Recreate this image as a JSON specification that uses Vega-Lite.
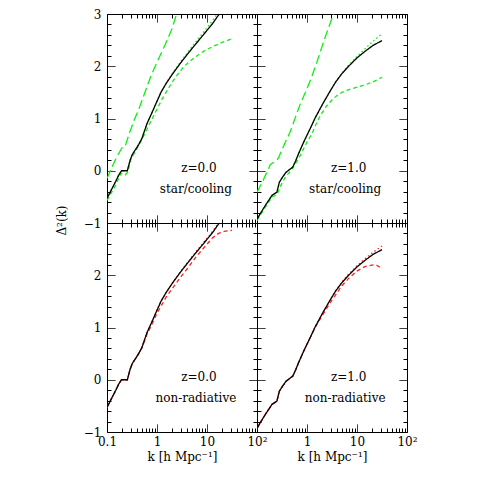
{
  "$schema": "https://vega.github.io/schema/vega-lite/v6.json",
  "padding": {"left": 54, "top": 7, "right": 5, "bottom": 5},
  "background": "white",
  "config": {
    "view": {"stroke": "black", "strokeWidth": 1},
    "axis": {
      "grid": false,
      "domain": false,
      "tickColor": "black",
      "tickWidth": 1,
      "tickSize": 8,
      "labelFont": "DejaVu Serif",
      "labelFontSize": 12,
      "labelColor": "black",
      "labelFlush": false,
      "labelOverlap": false,
      "titleFont": "DejaVu Serif",
      "titleFontSize": 12,
      "titleFontWeight": "normal",
      "titleColor": "black"
    }
  },
  "datasets": {
    "curves": [
      {"panel":"TL","series":"a_dot_g","k":0.1,"v":-0.53},{"panel":"TL","series":"a_dot_g","k":0.12,"v":-0.38},{"panel":"TL","series":"a_dot_g","k":0.15,"v":-0.2},{"panel":"TL","series":"a_dot_g","k":0.17,"v":-0.09},{"panel":"TL","series":"a_dot_g","k":0.195,"v":0.0},{"panel":"TL","series":"a_dot_g","k":0.255,"v":0.0},{"panel":"TL","series":"a_dot_g","k":0.29,"v":0.2},{"panel":"TL","series":"a_dot_g","k":0.32,"v":0.31},{"panel":"TL","series":"a_dot_g","k":0.38,"v":0.42},{"panel":"TL","series":"a_dot_g","k":0.43,"v":0.5},{"panel":"TL","series":"a_dot_g","k":0.5,"v":0.62},{"panel":"TL","series":"a_dot_g","k":0.63,"v":0.9},{"panel":"TL","series":"a_dot_g","k":0.8,"v":1.12},{"panel":"TL","series":"a_dot_g","k":1.0,"v":1.33},{"panel":"TL","series":"a_dot_g","k":1.2,"v":1.5},{"panel":"TL","series":"a_dot_g","k":1.5,"v":1.67},{"panel":"TL","series":"a_dot_g","k":2.0,"v":1.85},{"panel":"TL","series":"a_dot_g","k":3.0,"v":2.09},{"panel":"TL","series":"a_dot_g","k":4.3,"v":2.29},{"panel":"TL","series":"a_dot_g","k":6.0,"v":2.47},{"panel":"TL","series":"a_dot_g","k":9.3,"v":2.7},{"panel":"TL","series":"a_dot_g","k":13,"v":2.88},{"panel":"TL","series":"a_dot_g","k":17,"v":3.04},{"panel":"TL","series":"a_dot_g","k":25,"v":3.24},{"panel":"TL","series":"a_dot_g","k":31.6,"v":3.37},

      {"panel":"TL","series":"b_short_g","k":0.1,"v":-0.57},{"panel":"TL","series":"b_short_g","k":0.15,"v":-0.27},{"panel":"TL","series":"b_short_g","k":0.19,"v":-0.05},{"panel":"TL","series":"b_short_g","k":0.23,"v":-0.08},{"panel":"TL","series":"b_short_g","k":0.26,"v":-0.03},{"panel":"TL","series":"b_short_g","k":0.3,"v":0.22},{"panel":"TL","series":"b_short_g","k":0.4,"v":0.43},{"panel":"TL","series":"b_short_g","k":0.5,"v":0.6},{"panel":"TL","series":"b_short_g","k":0.68,"v":0.86},{"panel":"TL","series":"b_short_g","k":1.0,"v":1.18},{"panel":"TL","series":"b_short_g","k":1.26,"v":1.37},{"panel":"TL","series":"b_short_g","k":1.7,"v":1.58},{"panel":"TL","series":"b_short_g","k":2.33,"v":1.79},{"panel":"TL","series":"b_short_g","k":3.5,"v":2.0},{"panel":"TL","series":"b_short_g","k":5.85,"v":2.18},{"panel":"TL","series":"b_short_g","k":9.0,"v":2.3},{"panel":"TL","series":"b_short_g","k":14.7,"v":2.4},{"panel":"TL","series":"b_short_g","k":22,"v":2.47},{"panel":"TL","series":"b_short_g","k":31.6,"v":2.53},

      {"panel":"TL","series":"c_long_g","k":0.1,"v":-0.15},{"panel":"TL","series":"c_long_g","k":0.13,"v":0.1},{"panel":"TL","series":"c_long_g","k":0.16,"v":0.28},{"panel":"TL","series":"c_long_g","k":0.2,"v":0.44},{"panel":"TL","series":"c_long_g","k":0.23,"v":0.46},{"panel":"TL","series":"c_long_g","k":0.28,"v":0.72},{"panel":"TL","series":"c_long_g","k":0.35,"v":0.97},{"panel":"TL","series":"c_long_g","k":0.45,"v":1.22},{"panel":"TL","series":"c_long_g","k":0.55,"v":1.45},{"panel":"TL","series":"c_long_g","k":0.74,"v":1.79},{"panel":"TL","series":"c_long_g","k":1.0,"v":2.08},{"panel":"TL","series":"c_long_g","k":1.47,"v":2.42},{"panel":"TL","series":"c_long_g","k":2.0,"v":2.72},{"panel":"TL","series":"c_long_g","k":2.44,"v":2.99},{"panel":"TL","series":"c_long_g","k":3.5,"v":3.4},

      {"panel":"TL","series":"d_ref","k":0.1,"v":-0.53},{"panel":"TL","series":"d_ref","k":0.12,"v":-0.38},{"panel":"TL","series":"d_ref","k":0.15,"v":-0.2},{"panel":"TL","series":"d_ref","k":0.17,"v":-0.09},{"panel":"TL","series":"d_ref","k":0.195,"v":0.0},{"panel":"TL","series":"d_ref","k":0.255,"v":0.0},{"panel":"TL","series":"d_ref","k":0.29,"v":0.2},{"panel":"TL","series":"d_ref","k":0.32,"v":0.31},{"panel":"TL","series":"d_ref","k":0.38,"v":0.42},{"panel":"TL","series":"d_ref","k":0.43,"v":0.5},{"panel":"TL","series":"d_ref","k":0.5,"v":0.62},{"panel":"TL","series":"d_ref","k":0.63,"v":0.9},{"panel":"TL","series":"d_ref","k":0.8,"v":1.12},{"panel":"TL","series":"d_ref","k":1.0,"v":1.33},{"panel":"TL","series":"d_ref","k":1.2,"v":1.5},{"panel":"TL","series":"d_ref","k":1.5,"v":1.66},{"panel":"TL","series":"d_ref","k":2.0,"v":1.84},{"panel":"TL","series":"d_ref","k":3.0,"v":2.07},{"panel":"TL","series":"d_ref","k":4.3,"v":2.26},{"panel":"TL","series":"d_ref","k":6.0,"v":2.43},{"panel":"TL","series":"d_ref","k":9.3,"v":2.65},{"panel":"TL","series":"d_ref","k":13,"v":2.82},{"panel":"TL","series":"d_ref","k":17,"v":2.98},{"panel":"TL","series":"d_ref","k":25,"v":3.15},{"panel":"TL","series":"d_ref","k":31.6,"v":3.26},

      {"panel":"TR","series":"a_dot_g","k":0.1,"v":-0.93},{"panel":"TR","series":"a_dot_g","k":0.12,"v":-0.8},{"panel":"TR","series":"a_dot_g","k":0.15,"v":-0.65},{"panel":"TR","series":"a_dot_g","k":0.2,"v":-0.47},{"panel":"TR","series":"a_dot_g","k":0.25,"v":-0.41},{"panel":"TR","series":"a_dot_g","k":0.28,"v":-0.22},{"panel":"TR","series":"a_dot_g","k":0.32,"v":-0.13},{"panel":"TR","series":"a_dot_g","k":0.38,"v":-0.03},{"panel":"TR","series":"a_dot_g","k":0.43,"v":0.01},{"panel":"TR","series":"a_dot_g","k":0.52,"v":0.07},{"panel":"TR","series":"a_dot_g","k":0.6,"v":0.2},{"panel":"TR","series":"a_dot_g","k":0.68,"v":0.33},{"panel":"TR","series":"a_dot_g","k":0.86,"v":0.55},{"panel":"TR","series":"a_dot_g","k":1.15,"v":0.8},{"panel":"TR","series":"a_dot_g","k":1.47,"v":1.02},{"panel":"TR","series":"a_dot_g","k":2.15,"v":1.31},{"panel":"TR","series":"a_dot_g","k":2.8,"v":1.5},{"panel":"TR","series":"a_dot_g","k":3.7,"v":1.7},{"panel":"TR","series":"a_dot_g","k":5.0,"v":1.87},{"panel":"TR","series":"a_dot_g","k":6.8,"v":2.02},{"panel":"TR","series":"a_dot_g","k":10,"v":2.19},{"panel":"TR","series":"a_dot_g","k":14.7,"v":2.34},{"panel":"TR","series":"a_dot_g","k":21,"v":2.48},{"panel":"TR","series":"a_dot_g","k":31.6,"v":2.62},

      {"panel":"TR","series":"b_short_g","k":0.1,"v":-0.95},{"panel":"TR","series":"b_short_g","k":0.15,"v":-0.68},{"panel":"TR","series":"b_short_g","k":0.2,"v":-0.5},{"panel":"TR","series":"b_short_g","k":0.25,"v":-0.46},{"panel":"TR","series":"b_short_g","k":0.3,"v":-0.28},{"panel":"TR","series":"b_short_g","k":0.38,"v":-0.1},{"panel":"TR","series":"b_short_g","k":0.46,"v":-0.02},{"panel":"TR","series":"b_short_g","k":0.6,"v":0.15},{"panel":"TR","series":"b_short_g","k":0.74,"v":0.3},{"panel":"TR","series":"b_short_g","k":1.0,"v":0.55},{"panel":"TR","series":"b_short_g","k":1.26,"v":0.71},{"panel":"TR","series":"b_short_g","k":1.5,"v":0.88},{"panel":"TR","series":"b_short_g","k":1.85,"v":1.06},{"panel":"TR","series":"b_short_g","k":2.51,"v":1.25},{"panel":"TR","series":"b_short_g","k":3.2,"v":1.36},{"panel":"TR","series":"b_short_g","k":3.98,"v":1.44},{"panel":"TR","series":"b_short_g","k":5.0,"v":1.5},{"panel":"TR","series":"b_short_g","k":6.3,"v":1.54},{"panel":"TR","series":"b_short_g","k":10,"v":1.6},{"panel":"TR","series":"b_short_g","k":15,"v":1.65},{"panel":"TR","series":"b_short_g","k":22,"v":1.71},{"panel":"TR","series":"b_short_g","k":31.6,"v":1.79},

      {"panel":"TR","series":"c_long_g","k":0.1,"v":-0.41},{"panel":"TR","series":"c_long_g","k":0.13,"v":-0.2},{"panel":"TR","series":"c_long_g","k":0.16,"v":-0.02},{"panel":"TR","series":"c_long_g","k":0.185,"v":0.12},{"panel":"TR","series":"c_long_g","k":0.25,"v":0.2},{"panel":"TR","series":"c_long_g","k":0.27,"v":0.25},{"panel":"TR","series":"c_long_g","k":0.37,"v":0.55},{"panel":"TR","series":"c_long_g","k":0.46,"v":0.74},{"panel":"TR","series":"c_long_g","k":0.6,"v":1.05},{"panel":"TR","series":"c_long_g","k":0.75,"v":1.3},{"panel":"TR","series":"c_long_g","k":1.0,"v":1.57},{"panel":"TR","series":"c_long_g","k":1.3,"v":1.85},{"panel":"TR","series":"c_long_g","k":1.58,"v":2.08},{"panel":"TR","series":"c_long_g","k":2.2,"v":2.5},{"panel":"TR","series":"c_long_g","k":3.4,"v":3.0},{"panel":"TR","series":"c_long_g","k":4.5,"v":3.3},

      {"panel":"TR","series":"d_ref","k":0.1,"v":-0.93},{"panel":"TR","series":"d_ref","k":0.12,"v":-0.8},{"panel":"TR","series":"d_ref","k":0.15,"v":-0.65},{"panel":"TR","series":"d_ref","k":0.2,"v":-0.47},{"panel":"TR","series":"d_ref","k":0.25,"v":-0.41},{"panel":"TR","series":"d_ref","k":0.28,"v":-0.22},{"panel":"TR","series":"d_ref","k":0.32,"v":-0.13},{"panel":"TR","series":"d_ref","k":0.38,"v":-0.03},{"panel":"TR","series":"d_ref","k":0.43,"v":0.01},{"panel":"TR","series":"d_ref","k":0.52,"v":0.07},{"panel":"TR","series":"d_ref","k":0.6,"v":0.2},{"panel":"TR","series":"d_ref","k":0.68,"v":0.33},{"panel":"TR","series":"d_ref","k":0.86,"v":0.55},{"panel":"TR","series":"d_ref","k":1.15,"v":0.8},{"panel":"TR","series":"d_ref","k":1.47,"v":1.02},{"panel":"TR","series":"d_ref","k":2.15,"v":1.31},{"panel":"TR","series":"d_ref","k":2.8,"v":1.5},{"panel":"TR","series":"d_ref","k":3.7,"v":1.69},{"panel":"TR","series":"d_ref","k":5.0,"v":1.86},{"panel":"TR","series":"d_ref","k":6.8,"v":2.0},{"panel":"TR","series":"d_ref","k":10,"v":2.16},{"panel":"TR","series":"d_ref","k":14.7,"v":2.29},{"panel":"TR","series":"d_ref","k":21,"v":2.4},{"panel":"TR","series":"d_ref","k":31.6,"v":2.49},

      {"panel":"BL","series":"a_dot_r","k":0.1,"v":-0.53},{"panel":"BL","series":"a_dot_r","k":0.12,"v":-0.38},{"panel":"BL","series":"a_dot_r","k":0.15,"v":-0.2},{"panel":"BL","series":"a_dot_r","k":0.17,"v":-0.09},{"panel":"BL","series":"a_dot_r","k":0.195,"v":0.0},{"panel":"BL","series":"a_dot_r","k":0.255,"v":0.0},{"panel":"BL","series":"a_dot_r","k":0.29,"v":0.2},{"panel":"BL","series":"a_dot_r","k":0.32,"v":0.31},{"panel":"BL","series":"a_dot_r","k":0.38,"v":0.42},{"panel":"BL","series":"a_dot_r","k":0.43,"v":0.5},{"panel":"BL","series":"a_dot_r","k":0.5,"v":0.62},{"panel":"BL","series":"a_dot_r","k":0.63,"v":0.9},{"panel":"BL","series":"a_dot_r","k":0.8,"v":1.12},{"panel":"BL","series":"a_dot_r","k":1.0,"v":1.33},{"panel":"BL","series":"a_dot_r","k":1.2,"v":1.5},{"panel":"BL","series":"a_dot_r","k":1.5,"v":1.66},{"panel":"BL","series":"a_dot_r","k":2.0,"v":1.84},{"panel":"BL","series":"a_dot_r","k":3.0,"v":2.08},{"panel":"BL","series":"a_dot_r","k":4.3,"v":2.27},{"panel":"BL","series":"a_dot_r","k":6.0,"v":2.45},{"panel":"BL","series":"a_dot_r","k":9.3,"v":2.67},{"panel":"BL","series":"a_dot_r","k":13,"v":2.84},{"panel":"BL","series":"a_dot_r","k":17,"v":3.0},{"panel":"BL","series":"a_dot_r","k":25,"v":3.18},{"panel":"BL","series":"a_dot_r","k":31.6,"v":3.3},

      {"panel":"BL","series":"b_short_r","k":0.1,"v":-0.53},{"panel":"BL","series":"b_short_r","k":0.12,"v":-0.38},{"panel":"BL","series":"b_short_r","k":0.15,"v":-0.2},{"panel":"BL","series":"b_short_r","k":0.17,"v":-0.09},{"panel":"BL","series":"b_short_r","k":0.195,"v":0.0},{"panel":"BL","series":"b_short_r","k":0.255,"v":0.0},{"panel":"BL","series":"b_short_r","k":0.29,"v":0.2},{"panel":"BL","series":"b_short_r","k":0.32,"v":0.31},{"panel":"BL","series":"b_short_r","k":0.38,"v":0.42},{"panel":"BL","series":"b_short_r","k":0.43,"v":0.5},{"panel":"BL","series":"b_short_r","k":0.5,"v":0.61},{"panel":"BL","series":"b_short_r","k":0.63,"v":0.87},{"panel":"BL","series":"b_short_r","k":0.8,"v":1.07},{"panel":"BL","series":"b_short_r","k":1.0,"v":1.27},{"panel":"BL","series":"b_short_r","k":1.5,"v":1.57},{"panel":"BL","series":"b_short_r","k":2.0,"v":1.74},{"panel":"BL","series":"b_short_r","k":3.0,"v":1.97},{"panel":"BL","series":"b_short_r","k":4.3,"v":2.16},{"panel":"BL","series":"b_short_r","k":6.0,"v":2.35},{"panel":"BL","series":"b_short_r","k":9.3,"v":2.56},{"panel":"BL","series":"b_short_r","k":13,"v":2.72},{"panel":"BL","series":"b_short_r","k":17,"v":2.8},{"panel":"BL","series":"b_short_r","k":22,"v":2.84},{"panel":"BL","series":"b_short_r","k":31.6,"v":2.86},

      {"panel":"BL","series":"d_ref","k":0.1,"v":-0.53},{"panel":"BL","series":"d_ref","k":0.12,"v":-0.38},{"panel":"BL","series":"d_ref","k":0.15,"v":-0.2},{"panel":"BL","series":"d_ref","k":0.17,"v":-0.09},{"panel":"BL","series":"d_ref","k":0.195,"v":0.0},{"panel":"BL","series":"d_ref","k":0.255,"v":0.0},{"panel":"BL","series":"d_ref","k":0.29,"v":0.2},{"panel":"BL","series":"d_ref","k":0.32,"v":0.31},{"panel":"BL","series":"d_ref","k":0.38,"v":0.42},{"panel":"BL","series":"d_ref","k":0.43,"v":0.5},{"panel":"BL","series":"d_ref","k":0.5,"v":0.62},{"panel":"BL","series":"d_ref","k":0.63,"v":0.9},{"panel":"BL","series":"d_ref","k":0.8,"v":1.12},{"panel":"BL","series":"d_ref","k":1.0,"v":1.33},{"panel":"BL","series":"d_ref","k":1.2,"v":1.5},{"panel":"BL","series":"d_ref","k":1.5,"v":1.66},{"panel":"BL","series":"d_ref","k":2.0,"v":1.84},{"panel":"BL","series":"d_ref","k":3.0,"v":2.07},{"panel":"BL","series":"d_ref","k":4.3,"v":2.26},{"panel":"BL","series":"d_ref","k":6.0,"v":2.43},{"panel":"BL","series":"d_ref","k":9.3,"v":2.65},{"panel":"BL","series":"d_ref","k":13,"v":2.82},{"panel":"BL","series":"d_ref","k":17,"v":2.98},{"panel":"BL","series":"d_ref","k":25,"v":3.15},{"panel":"BL","series":"d_ref","k":31.6,"v":3.26},

      {"panel":"BR","series":"a_dot_r","k":0.1,"v":-0.93},{"panel":"BR","series":"a_dot_r","k":0.12,"v":-0.8},{"panel":"BR","series":"a_dot_r","k":0.15,"v":-0.65},{"panel":"BR","series":"a_dot_r","k":0.2,"v":-0.47},{"panel":"BR","series":"a_dot_r","k":0.25,"v":-0.41},{"panel":"BR","series":"a_dot_r","k":0.28,"v":-0.22},{"panel":"BR","series":"a_dot_r","k":0.32,"v":-0.13},{"panel":"BR","series":"a_dot_r","k":0.38,"v":-0.03},{"panel":"BR","series":"a_dot_r","k":0.43,"v":0.01},{"panel":"BR","series":"a_dot_r","k":0.52,"v":0.07},{"panel":"BR","series":"a_dot_r","k":0.6,"v":0.2},{"panel":"BR","series":"a_dot_r","k":0.68,"v":0.33},{"panel":"BR","series":"a_dot_r","k":0.86,"v":0.55},{"panel":"BR","series":"a_dot_r","k":1.15,"v":0.8},{"panel":"BR","series":"a_dot_r","k":1.47,"v":1.02},{"panel":"BR","series":"a_dot_r","k":2.15,"v":1.31},{"panel":"BR","series":"a_dot_r","k":2.8,"v":1.5},{"panel":"BR","series":"a_dot_r","k":3.7,"v":1.7},{"panel":"BR","series":"a_dot_r","k":5.0,"v":1.87},{"panel":"BR","series":"a_dot_r","k":6.8,"v":2.02},{"panel":"BR","series":"a_dot_r","k":10,"v":2.18},{"panel":"BR","series":"a_dot_r","k":14.7,"v":2.32},{"panel":"BR","series":"a_dot_r","k":21,"v":2.44},{"panel":"BR","series":"a_dot_r","k":31.6,"v":2.56},

      {"panel":"BR","series":"b_short_r","k":0.1,"v":-0.93},{"panel":"BR","series":"b_short_r","k":0.12,"v":-0.8},{"panel":"BR","series":"b_short_r","k":0.15,"v":-0.65},{"panel":"BR","series":"b_short_r","k":0.2,"v":-0.47},{"panel":"BR","series":"b_short_r","k":0.25,"v":-0.41},{"panel":"BR","series":"b_short_r","k":0.28,"v":-0.22},{"panel":"BR","series":"b_short_r","k":0.32,"v":-0.13},{"panel":"BR","series":"b_short_r","k":0.38,"v":-0.03},{"panel":"BR","series":"b_short_r","k":0.43,"v":0.01},{"panel":"BR","series":"b_short_r","k":0.52,"v":0.07},{"panel":"BR","series":"b_short_r","k":0.6,"v":0.2},{"panel":"BR","series":"b_short_r","k":0.68,"v":0.33},{"panel":"BR","series":"b_short_r","k":0.86,"v":0.55},{"panel":"BR","series":"b_short_r","k":1.15,"v":0.8},{"panel":"BR","series":"b_short_r","k":1.47,"v":1.01},{"panel":"BR","series":"b_short_r","k":2.15,"v":1.27},{"panel":"BR","series":"b_short_r","k":2.8,"v":1.45},{"panel":"BR","series":"b_short_r","k":3.7,"v":1.62},{"panel":"BR","series":"b_short_r","k":5.0,"v":1.8},{"panel":"BR","series":"b_short_r","k":6.8,"v":1.94},{"panel":"BR","series":"b_short_r","k":10,"v":2.08},{"panel":"BR","series":"b_short_r","k":14.7,"v":2.17},{"panel":"BR","series":"b_short_r","k":21,"v":2.2},{"panel":"BR","series":"b_short_r","k":25,"v":2.19},{"panel":"BR","series":"b_short_r","k":31.6,"v":2.13},

      {"panel":"BR","series":"d_ref","k":0.1,"v":-0.93},{"panel":"BR","series":"d_ref","k":0.12,"v":-0.8},{"panel":"BR","series":"d_ref","k":0.15,"v":-0.65},{"panel":"BR","series":"d_ref","k":0.2,"v":-0.47},{"panel":"BR","series":"d_ref","k":0.25,"v":-0.41},{"panel":"BR","series":"d_ref","k":0.28,"v":-0.22},{"panel":"BR","series":"d_ref","k":0.32,"v":-0.13},{"panel":"BR","series":"d_ref","k":0.38,"v":-0.03},{"panel":"BR","series":"d_ref","k":0.43,"v":0.01},{"panel":"BR","series":"d_ref","k":0.52,"v":0.07},{"panel":"BR","series":"d_ref","k":0.6,"v":0.2},{"panel":"BR","series":"d_ref","k":0.68,"v":0.33},{"panel":"BR","series":"d_ref","k":0.86,"v":0.55},{"panel":"BR","series":"d_ref","k":1.15,"v":0.8},{"panel":"BR","series":"d_ref","k":1.47,"v":1.02},{"panel":"BR","series":"d_ref","k":2.15,"v":1.31},{"panel":"BR","series":"d_ref","k":2.8,"v":1.5},{"panel":"BR","series":"d_ref","k":3.7,"v":1.69},{"panel":"BR","series":"d_ref","k":5.0,"v":1.86},{"panel":"BR","series":"d_ref","k":6.8,"v":2.0},{"panel":"BR","series":"d_ref","k":10,"v":2.16},{"panel":"BR","series":"d_ref","k":14.7,"v":2.29},{"panel":"BR","series":"d_ref","k":21,"v":2.4},{"panel":"BR","series":"d_ref","k":31.6,"v":2.49}
    ],
    "labels": [
      {"panel":"TL","k":6.9,"v":0.05,"text":"z=0.0"},{"panel":"TL","k":6.0,"v":-0.35,"text":"star/cooling"},
      {"panel":"TR","k":6.8,"v":0.05,"text":"z=1.0"},{"panel":"TR","k":5.8,"v":-0.35,"text":"star/cooling"},
      {"panel":"BL","k":6.9,"v":0.05,"text":"z=0.0"},{"panel":"BL","k":6.0,"v":-0.35,"text":"non-radiative"},
      {"panel":"BR","k":6.8,"v":0.05,"text":"z=1.0"},{"panel":"BR","k":5.8,"v":-0.35,"text":"non-radiative"}
    ]
  },
  "columns": 2,
  "spacing": 0,
  "bounds": "flush",
  "concat": [
    {
      "width": 150, "height": 209,
      "layer": [
        {
          "data": {"name": "curves"},
          "transform": [{"filter": "datum.panel == 'TL'"}],
          "mark": {"type": "line", "clip": true, "strokeWidth": 1.3},
          "encoding": {
            "x": {"field": "k", "type": "quantitative", "scale": {"type": "log", "domain": [0.1, 100]},
              "axis": {"orient": "bottom", "offset": -8, "tickSize": 8, "domain": false, "title": null, "labels": false, "values": [0.1,0.2,0.3,0.4,0.5,0.6,0.7,0.8,0.9,1,2,3,4,5,6,7,8,9,10,20,30,40,50,60,70,80,90,100],
                "tickDash": {"condition": {"test": "datum.value == 0.1 || datum.value == 1 || datum.value == 10 || datum.value == 100", "value": [1, 0]}, "value": [0, 4, 4, 100]}}},
            "y": {"field": "v", "type": "quantitative", "scale": {"domain": [-1, 3]},
              "axis": {"orient": "left", "offset": -8, "tickSize": 8, "domain": false, "title": "Δ²(k)", "titleX": -54, "titleY": 206, "titleAngle": 270, "titleAlign": "center", "titleBaseline": "middle", "titleColor": "#000000",
                "values": [-1,-0.8,-0.6,-0.4,-0.2,0,0.2,0.4,0.6,0.8,1,1.2,1.4,1.6,1.8,2,2.2,2.4,2.6,2.8,3],
                "labelExpr": "datum.value == -1 ? '−1' : datum.value == 0 ? '0' : datum.value == 1 ? '1' : datum.value == 2 ? '2' : datum.value == 3 ? '3' : ''",
                "labelPadding": 6,
                "tickDash": {"condition": {"test": "abs(datum.value - round(datum.value)) < 0.001", "value": [1, 0]}, "value": [0, 4, 4, 100]}}},
            "color": {"field": "series", "type": "nominal", "scale": {"domain": ["a_dot_g","a_dot_r","b_short_g","b_short_r","c_long_g","d_ref"], "range": ["#11ee11","#ff2020","#11ee11","#ff2020","#11ee11","black"]}, "legend": null},
            "strokeDash": {"field": "series", "type": "nominal", "scale": {"domain": ["a_dot_g","a_dot_r","b_short_g","b_short_r","c_long_g","d_ref"], "range": [[1.5,2.5],[1.5,2.5],[4,3],[4,3],[9,4],[1,0]]}, "legend": null}
          }
        },
        {
          "data": {"name": "labels"},
          "transform": [{"filter": "datum.panel == 'TL'"}],
          "mark": {"type": "text", "font": "DejaVu Serif", "fontSize": 12, "color": "black"},
          "encoding": {
            "x": {"field": "k", "type": "quantitative", "scale": {"type": "log", "domain": [0.1, 100]},
              "axis": {"orient": "top", "offset": -8, "tickSize": 8, "domain": false, "title": null, "labels": false, "values": [0.1,0.2,0.3,0.4,0.5,0.6,0.7,0.8,0.9,1,2,3,4,5,6,7,8,9,10,20,30,40,50,60,70,80,90,100],
                "tickDash": {"condition": {"test": "datum.value == 0.1 || datum.value == 1 || datum.value == 10 || datum.value == 100", "value": [1, 0]}, "value": [0, 4, 4, 100]}}},
            "y": {"field": "v", "type": "quantitative", "scale": {"domain": [-1, 3]},
              "axis": {"orient": "right", "offset": -8, "tickSize": 8, "domain": false, "title": null, "labels": false, "values": [-1,-0.8,-0.6,-0.4,-0.2,0,0.2,0.4,0.6,0.8,1,1.2,1.4,1.6,1.8,2,2.2,2.4,2.6,2.8,3],
                "tickDash": {"condition": {"test": "abs(datum.value - round(datum.value)) < 0.001", "value": [1, 0]}, "value": [0, 4, 4, 100]}}},
            "text": {"field": "text"}
          }
        }
      ],
      "resolve": {"axis": {"x": "independent", "y": "independent"}}
    },
    {
      "width": 150, "height": 209,
      "layer": [
        {
          "data": {"name": "curves"},
          "transform": [{"filter": "datum.panel == 'TR'"}],
          "mark": {"type": "line", "clip": true, "strokeWidth": 1.3},
          "encoding": {
            "x": {"field": "k", "type": "quantitative", "scale": {"type": "log", "domain": [0.1, 100]},
              "axis": {"orient": "bottom", "offset": -8, "tickSize": 8, "domain": false, "title": null, "labels": false, "values": [0.1,0.2,0.3,0.4,0.5,0.6,0.7,0.8,0.9,1,2,3,4,5,6,7,8,9,10,20,30,40,50,60,70,80,90,100],
                "tickDash": {"condition": {"test": "datum.value == 0.1 || datum.value == 1 || datum.value == 10 || datum.value == 100", "value": [1, 0]}, "value": [0, 4, 4, 100]}}},
            "y": {"field": "v", "type": "quantitative", "scale": {"domain": [-1, 3]},
              "axis": {"orient": "left", "offset": -8, "tickSize": 8, "domain": false, "title": null, "labels": false, "values": [-1,-0.8,-0.6,-0.4,-0.2,0,0.2,0.4,0.6,0.8,1,1.2,1.4,1.6,1.8,2,2.2,2.4,2.6,2.8,3],
                "tickDash": {"condition": {"test": "abs(datum.value - round(datum.value)) < 0.001", "value": [1, 0]}, "value": [0, 4, 4, 100]}}},
            "color": {"field": "series", "type": "nominal", "scale": {"domain": ["a_dot_g","a_dot_r","b_short_g","b_short_r","c_long_g","d_ref"], "range": ["#11ee11","#ff2020","#11ee11","#ff2020","#11ee11","black"]}, "legend": null},
            "strokeDash": {"field": "series", "type": "nominal", "scale": {"domain": ["a_dot_g","a_dot_r","b_short_g","b_short_r","c_long_g","d_ref"], "range": [[1.5,2.5],[1.5,2.5],[4,3],[4,3],[9,4],[1,0]]}, "legend": null}
          }
        },
        {
          "data": {"name": "labels"},
          "transform": [{"filter": "datum.panel == 'TR'"}],
          "mark": {"type": "text", "font": "DejaVu Serif", "fontSize": 12, "color": "black"},
          "encoding": {
            "x": {"field": "k", "type": "quantitative", "scale": {"type": "log", "domain": [0.1, 100]},
              "axis": {"orient": "top", "offset": -8, "tickSize": 8, "domain": false, "title": null, "labels": false, "values": [0.1,0.2,0.3,0.4,0.5,0.6,0.7,0.8,0.9,1,2,3,4,5,6,7,8,9,10,20,30,40,50,60,70,80,90,100],
                "tickDash": {"condition": {"test": "datum.value == 0.1 || datum.value == 1 || datum.value == 10 || datum.value == 100", "value": [1, 0]}, "value": [0, 4, 4, 100]}}},
            "y": {"field": "v", "type": "quantitative", "scale": {"domain": [-1, 3]},
              "axis": {"orient": "right", "offset": -8, "tickSize": 8, "domain": false, "title": null, "labels": false, "values": [-1,-0.8,-0.6,-0.4,-0.2,0,0.2,0.4,0.6,0.8,1,1.2,1.4,1.6,1.8,2,2.2,2.4,2.6,2.8,3],
                "tickDash": {"condition": {"test": "abs(datum.value - round(datum.value)) < 0.001", "value": [1, 0]}, "value": [0, 4, 4, 100]}}},
            "text": {"field": "text"}
          }
        }
      ],
      "resolve": {"axis": {"x": "independent", "y": "independent"}}
    },
    {
      "width": 150, "height": 209,
      "layer": [
        {
          "data": {"name": "curves"},
          "transform": [{"filter": "datum.panel == 'BL'"}],
          "mark": {"type": "line", "clip": true, "strokeWidth": 1.3},
          "encoding": {
            "x": {"field": "k", "type": "quantitative", "scale": {"type": "log", "domain": [0.1, 100]},
              "axis": {"orient": "bottom", "offset": -8, "tickSize": 8, "domain": false, "title": "k [h  Mpc⁻¹]", "titlePadding": 4, "values": [0.1,0.2,0.3,0.4,0.5,0.6,0.7,0.8,0.9,1,2,3,4,5,6,7,8,9,10,20,30,40,50,60,70,80,90,100],
                "labelExpr": "datum.value == 0.1 ? '0.1' : datum.value == 1 ? '1' : datum.value == 10 ? '10' : datum.value == 100 ? '10²' : ''",
                "labelPadding": 4,
                "tickDash": {"condition": {"test": "datum.value == 0.1 || datum.value == 1 || datum.value == 10 || datum.value == 100", "value": [1, 0]}, "value": [0, 4, 4, 100]}}},
            "y": {"field": "v", "type": "quantitative", "scale": {"domain": [-1, 3]},
              "axis": {"orient": "left", "offset": -8, "tickSize": 8, "domain": false, "title": null,
                "values": [-1,-0.8,-0.6,-0.4,-0.2,0,0.2,0.4,0.6,0.8,1,1.2,1.4,1.6,1.8,2,2.2,2.4,2.6,2.8,3],
                "labelExpr": "datum.value == -1 ? '−1' : datum.value == 0 ? '0' : datum.value == 1 ? '1' : datum.value == 2 ? '2' : ''",
                "labelPadding": 6,
                "tickDash": {"condition": {"test": "abs(datum.value - round(datum.value)) < 0.001", "value": [1, 0]}, "value": [0, 4, 4, 100]}}},
            "color": {"field": "series", "type": "nominal", "scale": {"domain": ["a_dot_g","a_dot_r","b_short_g","b_short_r","c_long_g","d_ref"], "range": ["#11ee11","#ff2020","#11ee11","#ff2020","#11ee11","black"]}, "legend": null},
            "strokeDash": {"field": "series", "type": "nominal", "scale": {"domain": ["a_dot_g","a_dot_r","b_short_g","b_short_r","c_long_g","d_ref"], "range": [[1.5,2.5],[1.5,2.5],[4,3],[4,3],[9,4],[1,0]]}, "legend": null}
          }
        },
        {
          "data": {"name": "labels"},
          "transform": [{"filter": "datum.panel == 'BL'"}],
          "mark": {"type": "text", "font": "DejaVu Serif", "fontSize": 12, "color": "black"},
          "encoding": {
            "x": {"field": "k", "type": "quantitative", "scale": {"type": "log", "domain": [0.1, 100]},
              "axis": {"orient": "top", "offset": -8, "tickSize": 8, "domain": false, "title": null, "labels": false, "values": [0.1,0.2,0.3,0.4,0.5,0.6,0.7,0.8,0.9,1,2,3,4,5,6,7,8,9,10,20,30,40,50,60,70,80,90,100],
                "tickDash": {"condition": {"test": "datum.value == 0.1 || datum.value == 1 || datum.value == 10 || datum.value == 100", "value": [1, 0]}, "value": [0, 4, 4, 100]}}},
            "y": {"field": "v", "type": "quantitative", "scale": {"domain": [-1, 3]},
              "axis": {"orient": "right", "offset": -8, "tickSize": 8, "domain": false, "title": null, "labels": false, "values": [-1,-0.8,-0.6,-0.4,-0.2,0,0.2,0.4,0.6,0.8,1,1.2,1.4,1.6,1.8,2,2.2,2.4,2.6,2.8,3],
                "tickDash": {"condition": {"test": "abs(datum.value - round(datum.value)) < 0.001", "value": [1, 0]}, "value": [0, 4, 4, 100]}}},
            "text": {"field": "text"}
          }
        }
      ],
      "resolve": {"axis": {"x": "independent", "y": "independent"}}
    },
    {
      "width": 150, "height": 209,
      "layer": [
        {
          "data": {"name": "curves"},
          "transform": [{"filter": "datum.panel == 'BR'"}],
          "mark": {"type": "line", "clip": true, "strokeWidth": 1.3},
          "encoding": {
            "x": {"field": "k", "type": "quantitative", "scale": {"type": "log", "domain": [0.1, 100]},
              "axis": {"orient": "bottom", "offset": -8, "tickSize": 8, "domain": false, "title": "k [h  Mpc⁻¹]", "titlePadding": 4, "values": [0.1,0.2,0.3,0.4,0.5,0.6,0.7,0.8,0.9,1,2,3,4,5,6,7,8,9,10,20,30,40,50,60,70,80,90,100],
                "labelExpr": "datum.value == 1 ? '1' : datum.value == 10 ? '10' : datum.value == 100 ? '10²' : ''",
                "labelPadding": 4,
                "tickDash": {"condition": {"test": "datum.value == 0.1 || datum.value == 1 || datum.value == 10 || datum.value == 100", "value": [1, 0]}, "value": [0, 4, 4, 100]}}},
            "y": {"field": "v", "type": "quantitative", "scale": {"domain": [-1, 3]},
              "axis": {"orient": "left", "offset": -8, "tickSize": 8, "domain": false, "title": null, "labels": false, "values": [-1,-0.8,-0.6,-0.4,-0.2,0,0.2,0.4,0.6,0.8,1,1.2,1.4,1.6,1.8,2,2.2,2.4,2.6,2.8,3],
                "tickDash": {"condition": {"test": "abs(datum.value - round(datum.value)) < 0.001", "value": [1, 0]}, "value": [0, 4, 4, 100]}}},
            "color": {"field": "series", "type": "nominal", "scale": {"domain": ["a_dot_g","a_dot_r","b_short_g","b_short_r","c_long_g","d_ref"], "range": ["#11ee11","#ff2020","#11ee11","#ff2020","#11ee11","black"]}, "legend": null},
            "strokeDash": {"field": "series", "type": "nominal", "scale": {"domain": ["a_dot_g","a_dot_r","b_short_g","b_short_r","c_long_g","d_ref"], "range": [[1.5,2.5],[1.5,2.5],[4,3],[4,3],[9,4],[1,0]]}, "legend": null}
          }
        },
        {
          "data": {"name": "labels"},
          "transform": [{"filter": "datum.panel == 'BR'"}],
          "mark": {"type": "text", "font": "DejaVu Serif", "fontSize": 12, "color": "black"},
          "encoding": {
            "x": {"field": "k", "type": "quantitative", "scale": {"type": "log", "domain": [0.1, 100]},
              "axis": {"orient": "top", "offset": -8, "tickSize": 8, "domain": false, "title": null, "labels": false, "values": [0.1,0.2,0.3,0.4,0.5,0.6,0.7,0.8,0.9,1,2,3,4,5,6,7,8,9,10,20,30,40,50,60,70,80,90,100],
                "tickDash": {"condition": {"test": "datum.value == 0.1 || datum.value == 1 || datum.value == 10 || datum.value == 100", "value": [1, 0]}, "value": [0, 4, 4, 100]}}},
            "y": {"field": "v", "type": "quantitative", "scale": {"domain": [-1, 3]},
              "axis": {"orient": "right", "offset": -8, "tickSize": 8, "domain": false, "title": null, "labels": false, "values": [-1,-0.8,-0.6,-0.4,-0.2,0,0.2,0.4,0.6,0.8,1,1.2,1.4,1.6,1.8,2,2.2,2.4,2.6,2.8,3],
                "tickDash": {"condition": {"test": "abs(datum.value - round(datum.value)) < 0.001", "value": [1, 0]}, "value": [0, 4, 4, 100]}}},
            "text": {"field": "text"}
          }
        }
      ],
      "resolve": {"axis": {"x": "independent", "y": "independent"}}
    }
  ]
}
